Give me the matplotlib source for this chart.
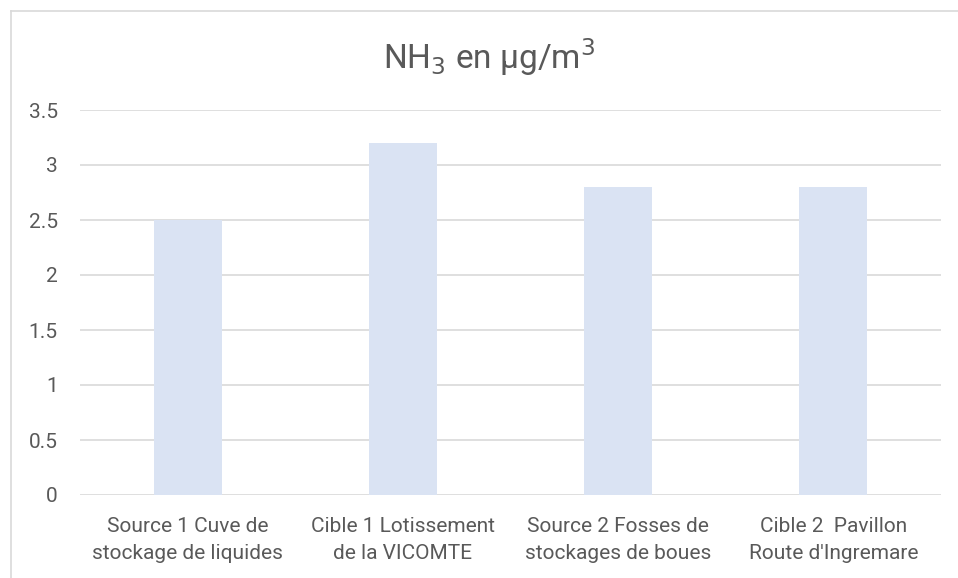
import matplotlib.pyplot as plt
from matplotlib.lines import Line2D

plt.rcParams['font.family'] = ['Roboto', 'DejaVu Sans']

categories = ['Source 1 Cuve de\nstockage de liquides',
              'Cible 1 Lotissement\nde la VICOMTE',
              'Source 2 Fosses de\nstockages de boues',
              'Cible 2  Pavillon\nRoute d\'Ingremare']
values = [2.5, 3.2, 2.8, 2.8]
yticks = [0, 0.5, 1, 1.5, 2, 2.5, 3, 3.5]

W, H = 958, 578
fig = plt.figure(figsize=(W / 100, H / 100), dpi=100)
ax = fig.add_axes([80 / W, 1 - 495 / H, (941 - 80) / W, (495 - 110) / H])

x = range(len(categories))
ax.bar(x, values, width=0.316, color='#DAE3F3', zorder=2)

ax.set_xlim(-0.5, len(categories) - 0.5)
ax.set_ylim(0, 3.5)
ax.set_yticks(yticks)
ax.set_yticklabels(['0', '0.5', '1', '1.5', '2', '2.5', '3', '3.5'])
ax.set_xticks(list(x))
ax.set_xticklabels(categories, linespacing=1.55)
ax.tick_params(axis='both', length=0, labelsize=15, colors='#595959')
ax.tick_params(axis='y', pad=16)
ax.tick_params(axis='x', pad=16)
ax.grid(axis='y', color='#D9D9D9', linewidth=1.2, zorder=0)
for s in ax.spines.values():
    s.set_visible(False)

fig.text(489 / W, 1 - 57 / H, r'NH$_3$ en µg/m$^3$',
         ha='center', va='center', fontsize=24, color='#595959')

# outer frame
fig.add_artist(Line2D([10.5 / W, 1], [1 - 10.5 / H, 1 - 10.5 / H],
                      color='#D9D9D9', linewidth=1.2))
fig.add_artist(Line2D([10.5 / W, 10.5 / W], [0, 1 - 10.5 / H],
                      color='#D9D9D9', linewidth=1.2))

fig.savefig('out.png', dpi=100, facecolor='white')
